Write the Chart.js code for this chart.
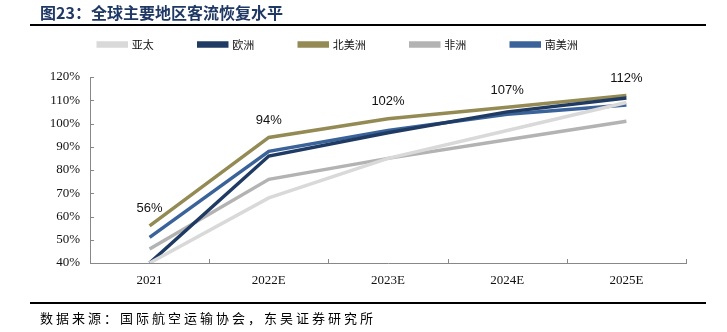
<!DOCTYPE html>
<html>
<head>
<meta charset="utf-8">
<script src="https://cdn.jsdelivr.net/npm/chart.js@4.4.1/dist/chart.umd.min.js"></script>
<style>
  html, body { margin: 0; padding: 0; background: #fff; }
  body { width: 727px; height: 332px; position: relative; overflow: hidden; }
  #title { position: absolute; left: 40px; top: 2px; font-family: "Noto Sans CJK SC", sans-serif; font-weight: bold; font-size: 16px; color: #1f3864; white-space: nowrap; line-height: 20px; }
  #ruleTop { position: absolute; left: 30px; top: 24px; width: 676px; height: 2px; background: #000; }
  #ruleBottom { position: absolute; left: 30px; top: 302px; width: 676px; height: 2px; background: #000; }
  #source { position: absolute; left: 40px; top: 309px; font-family: "Noto Sans CJK SC", sans-serif; font-size: 13px; letter-spacing: 3px; color: #000; white-space: nowrap; line-height: 18px; }
  #wrap { position: absolute; left: 0; top: 0; width: 727px; height: 332px; }
</style>
</head>
<body>
<div id="wrap"><canvas id="c" width="727" height="332"></canvas></div>
<div id="title">图23：全球主要地区客流恢复水平</div>
<div id="ruleTop"></div>
<div id="ruleBottom"></div>
<div id="source">数据来源：国际航空运输协会，东吴证券研究所</div>
<script>
const categories = ['2021', '2022E', '2023E', '2024E', '2025E'];
const seriesNames = ['亚太', '欧洲', '北美洲', '非洲', '南美洲'];
const asiaPacific = [40, 68, 85, 97, 109];
const europe = [40, 86, 96, 105, 111];
const northAmerica = [56, 94, 102, 107, 112];
const africa = [46, 76, 85, 93, 101];
const southAmerica = [51, 88, 97, 104, 108];
const yMin = 40, yMax = 120, yStep = 10;

const colors = ['#d9d9d9', '#1f3b63', '#948a54', '#b3b3b3', '#3a6399'];
const values = [asiaPacific, europe, northAmerica, africa, southAmerica];

const datasets = values.map((v, i) => ({
  label: seriesNames[i],
  data: v,
  borderColor: colors[i],
  backgroundColor: colors[i],
  borderWidth: 3.5,
  pointRadius: 0,
  tension: 0,
  fill: false
}));

const labelPlugin = {
  id: 'naLabels',
  afterDatasetsDraw(chart) {
    const ctx = chart.ctx;
    const meta = chart.getDatasetMeta(2);
    ctx.save();
    ctx.font = '13px "Liberation Sans", Arial, sans-serif';
    ctx.fillStyle = '#111';
    ctx.textAlign = 'center';
    ctx.textBaseline = 'middle';
    meta.data.forEach((pt, i) => {
      ctx.fillText(northAmerica[i] + '%', pt.x, pt.y - 17);
    });
    ctx.restore();
  }
};

const innerTicks = {
  id: 'innerTicks',
  afterDraw(chart) {
    const ctx = chart.ctx;
    const xs = chart.scales.x, ys = chart.scales.y;
    ctx.save();
    ctx.strokeStyle = '#888';
    ctx.lineWidth = 1;
    ctx.beginPath();
    ys.ticks.forEach((t, i) => {
      const y = Math.round(ys.getPixelForTick(i)) + 0.5;
      ctx.moveTo(ys.right, y);
      ctx.lineTo(ys.right + 4, y);
    });
    const n = categories.length;
    for (let i = 1; i <= n; i++) {
      let x;
      if (i < n) x = (xs.getPixelForTick(i - 1) + xs.getPixelForTick(i)) / 2;
      else x = xs.right;
      x = Math.round(x) + 0.5;
      ctx.moveTo(x, xs.top);
      ctx.lineTo(x, xs.top - 4);
    }
    ctx.stroke();
    ctx.restore();
  }
};

const legendSpacing = {
  id: 'legendSpacing',
  beforeLayout(chart) {
    const lg = chart.legend;
    if (lg && !lg._patched) {
      const f = lg.fit;
      lg.fit = function () { f.call(this); this.height += 17; };
      lg._patched = true;
    }
  },
  afterLayout(chart) {
    const lg = chart.legend;
    if (lg) { lg.left -= 20; lg.right -= 20; }
  }
};

new Chart(document.getElementById('c'), {
  type: 'line',
  data: { labels: categories, datasets },
  plugins: [labelPlugin, innerTicks, legendSpacing],
  options: {
    responsive: false,
    devicePixelRatio: 1,
    animation: false,
    layout: { padding: { left: 30, right: 41, top: -6, bottom: 39 } },
    plugins: {
      title: { display: false },
      tooltip: { enabled: false },
      legend: {
        position: 'top',
        align: 'center',
        labels: {
          boxWidth: 28,
          boxHeight: 3,
          padding: 45,
          color: '#111',
          font: { family: '"Noto Sans CJK SC", sans-serif', size: 11 }
        }
      }
    },
    scales: {
      x: {
        offset: true,
        grid: { display: false },
        border: { display: true, color: '#888', width: 1 },
        ticks: { padding: 2, color: '#111', font: { family: '"Liberation Serif", "Times New Roman", serif', size: 13 } },
        afterFit(s) { s.height = 30; }
      },
      y: {
        min: yMin, max: yMax,
        grid: { display: false },
        border: { display: true, color: '#888', width: 1 },
        ticks: {
          stepSize: yStep,
          padding: 2,
          color: '#111',
          font: { family: '"Liberation Serif", "Times New Roman", serif', size: 13 },
          callback: v => v + '%'
        },
        afterFit(s) { s.width = 60; }
      }
    }
  }
});
</script>
</body>
</html>
